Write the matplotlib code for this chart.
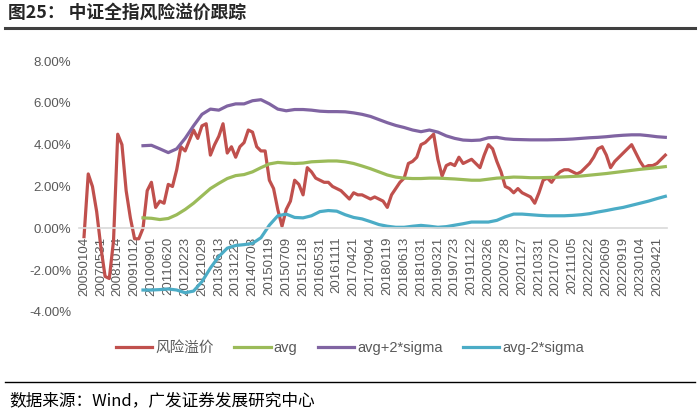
import numpy as np
import matplotlib
matplotlib.use("Agg")
import matplotlib.pyplot as plt

# ── Fonts ──────────────────────────────────────────────────
plt.rcParams['font.family'] = ['Liberation Sans', 'Noto Sans CJK SC', 'DejaVu Sans']
CJK = ['Noto Sans CJK SC', 'DejaVu Sans']

# ── Data (%) ───────────────────────────────────────────────
date_labels = ["20050104", "20070531", "20081014", "20091012", "20100901",
               "20110620", "20120223", "20121029", "20130613", "20131223",
               "20140708", "20150119", "20150709", "20151218", "20160531",
               "20161111", "20170421", "20170904", "20180119", "20180613",
               "20181031", "20190321", "20190723", "20191122", "20200326",
               "20200728", "20201127", "20210331", "20210720", "20211105",
               "20220222", "20220609", "20220919", "20230104", "20230421"]

# risk premium, one value every quarter label step
premium = [-0.4, 2.6, 2.0, 0.8, -0.9, -2.3, -2.4, -0.6, 4.5, 4.0,
           1.8, 0.5, -0.5, -0.5, 0.0, 1.8, 2.2, 1.0, 1.3, 1.2,
           2.1, 2.0, 2.8, 3.9, 3.7, 4.2, 4.7, 4.3, 4.9, 5.0,
           3.5, 4.0, 4.4, 5.0, 3.6, 3.9, 3.4, 3.9, 4.1, 4.7,
           4.6, 3.9, 3.7, 3.7, 2.3, 1.9, 0.9, 0.1, 0.9, 1.3,
           2.3, 2.1, 1.6, 2.9, 2.7, 2.4, 2.3, 2.2, 2.2, 2.0,
           1.9, 1.8, 1.6, 1.4, 1.7, 1.6, 1.6, 1.5, 1.4, 1.5,
           1.4, 1.3, 1.0, 1.6, 1.9, 2.2, 2.4, 3.1, 3.2, 3.4,
           4.0, 4.1, 4.3, 4.5, 3.3, 2.5, 3.0, 3.1, 3.0, 3.4,
           3.1, 3.2, 3.3, 3.1, 2.9, 3.5, 4.0, 3.8, 3.2, 2.7,
           2.0, 1.9, 1.7, 1.9, 1.7, 1.6, 1.5, 1.2, 1.7, 2.3,
           2.4, 2.2, 2.5, 2.7, 2.8, 2.8, 2.7, 2.6, 2.7, 2.9,
           3.1, 3.4, 3.8, 3.9, 3.5, 2.9, 3.2, 3.4, 3.6, 3.8,
           4.0, 3.6, 3.2, 2.9, 3.0, 3.0, 3.1, 3.3, 3.5]

# rolling bands, one value every half label step from 2010
avg = [0.50, 0.48, 0.42, 0.47, 0.65, 0.90, 1.20, 1.55, 1.90, 2.15,
       2.38, 2.52, 2.57, 2.70, 2.90, 3.08, 3.15, 3.12, 3.10, 3.12,
       3.18, 3.20, 3.22, 3.22, 3.18, 3.10, 2.98, 2.85, 2.70, 2.55,
       2.45, 2.40, 2.38, 2.38, 2.40, 2.40, 2.38, 2.36, 2.33, 2.30,
       2.30, 2.35, 2.40, 2.42, 2.45, 2.44, 2.42, 2.42, 2.43, 2.44,
       2.46, 2.48, 2.50, 2.54, 2.58, 2.62, 2.67, 2.72, 2.77, 2.82,
       2.86, 2.90, 2.95]

avg_up = [3.95, 3.97, 3.80, 3.62, 3.80, 4.30, 4.90, 5.45, 5.70, 5.65,
          5.85, 5.95, 5.95, 6.10, 6.15, 5.95, 5.70, 5.62, 5.68, 5.68,
          5.65, 5.60, 5.58, 5.58, 5.57, 5.52, 5.45, 5.35, 5.20, 5.05,
          4.92, 4.82, 4.70, 4.62, 4.70, 4.60, 4.42, 4.30, 4.22, 4.20,
          4.22, 4.33, 4.35, 4.28, 4.25, 4.24, 4.23, 4.23, 4.23, 4.24,
          4.25, 4.27, 4.30, 4.33, 4.35, 4.38, 4.42, 4.45, 4.47, 4.47,
          4.43, 4.38, 4.35]

avg_dn = [-2.95, -2.95, -2.93, -2.90, -2.95, -3.08, -3.00, -2.55, -1.90, -1.35,
          -0.95, -0.82, -0.78, -0.72, -0.45, 0.15, 0.60, 0.68, 0.52, 0.50,
          0.60, 0.80, 0.85, 0.82, 0.65, 0.52, 0.45, 0.32, 0.18, 0.10,
          0.05, 0.05, 0.10, 0.14, 0.10, 0.05, 0.08, 0.15, 0.22, 0.30,
          0.30, 0.30, 0.38, 0.55, 0.68, 0.68, 0.65, 0.62, 0.60, 0.60,
          0.60, 0.62, 0.65, 0.70, 0.78, 0.85, 0.93, 1.00, 1.10, 1.20,
          1.30, 1.42, 1.53]

x_prem = np.arange(len(premium)) * 0.25
x_band = 3.5 + np.arange(len(avg)) * 0.5

# ── Figure ─────────────────────────────────────────────────
fig = plt.figure(figsize=(7, 4.13), dpi=100)
ax = fig.add_axes([0.108, 0.2446, 0.8545, 0.6077])

# zero axis carries the date labels (set before ticks, it resets them)
for s in ['top', 'right', 'left']:
    ax.spines[s].set_visible(False)
ax.spines['bottom'].set_position(('data', 0))
ax.spines['bottom'].set_color('#D9D9D9')
ax.spines['bottom'].set_linewidth(1.2)

ax.plot(x_prem, premium, color='#C0504D', lw=2.3, label='风险溢价')
ax.plot(x_band, avg, color='#9BBB59', lw=2.3, label='avg')
ax.plot(x_band, avg_up, color='#8064A2', lw=2.3, label='avg+2*sigma')
ax.plot(x_band, avg_dn, color='#4BACC6', lw=2.3, label='avg-2*sigma')

ax.set_xlim(-0.5, 35)
ax.set_ylim(-4, 8)
ax.set_yticks(np.arange(-4, 9, 2))
ax.set_yticklabels([f"{v:.2f}%" for v in np.arange(-4, 9, 2)])
ax.set_xticks(np.arange(len(date_labels)))
ax.set_xticklabels(date_labels)
ax.spines['bottom'].set_bounds(-0.3, 34.6)
ax.tick_params(axis='x', length=0, pad=6, labelsize=9.5, labelcolor='#595959',
               labelrotation=90)
ax.tick_params(axis='y', length=0, pad=3, labelsize=9.5, labelcolor='#595959')

# ── Legend ─────────────────────────────────────────────────
leg = fig.legend(loc='center', bbox_to_anchor=(0.5, 1 - 348 / 413), ncol=4,
                 frameon=False, handlelength=2.5, handletextpad=0.2,
                 columnspacing=1.4, prop={'family': ['Liberation Sans', 'Noto Sans CJK SC'], 'size': 10.5})
for t in leg.get_texts():
    t.set_color('#595959')

# ── Title, rules and source ────────────────────────────────
fig.text(8 / 700, 1 - 13 / 413, "图25： 中证全指风险溢价跟踪", family=CJK,
         fontsize=12.8, fontweight='bold', color='#262626', va='center', ha='left')
fig.add_artist(plt.Line2D([5 / 700, 695 / 700], [1 - 28 / 413] * 2, color='#404040', lw=2.2))
fig.add_artist(plt.Line2D([5 / 700, 695 / 700], [1 - 382 / 413] * 2, color='#000000', lw=1.0))
fig.text(9 / 700, 1 - 401 / 413, "数据来源：Wind，广发证券发展研究中心", family=CJK,
         fontsize=12, color='#000000', va='center', ha='left')

plt.savefig('out.png', dpi=100)
plt.close()
